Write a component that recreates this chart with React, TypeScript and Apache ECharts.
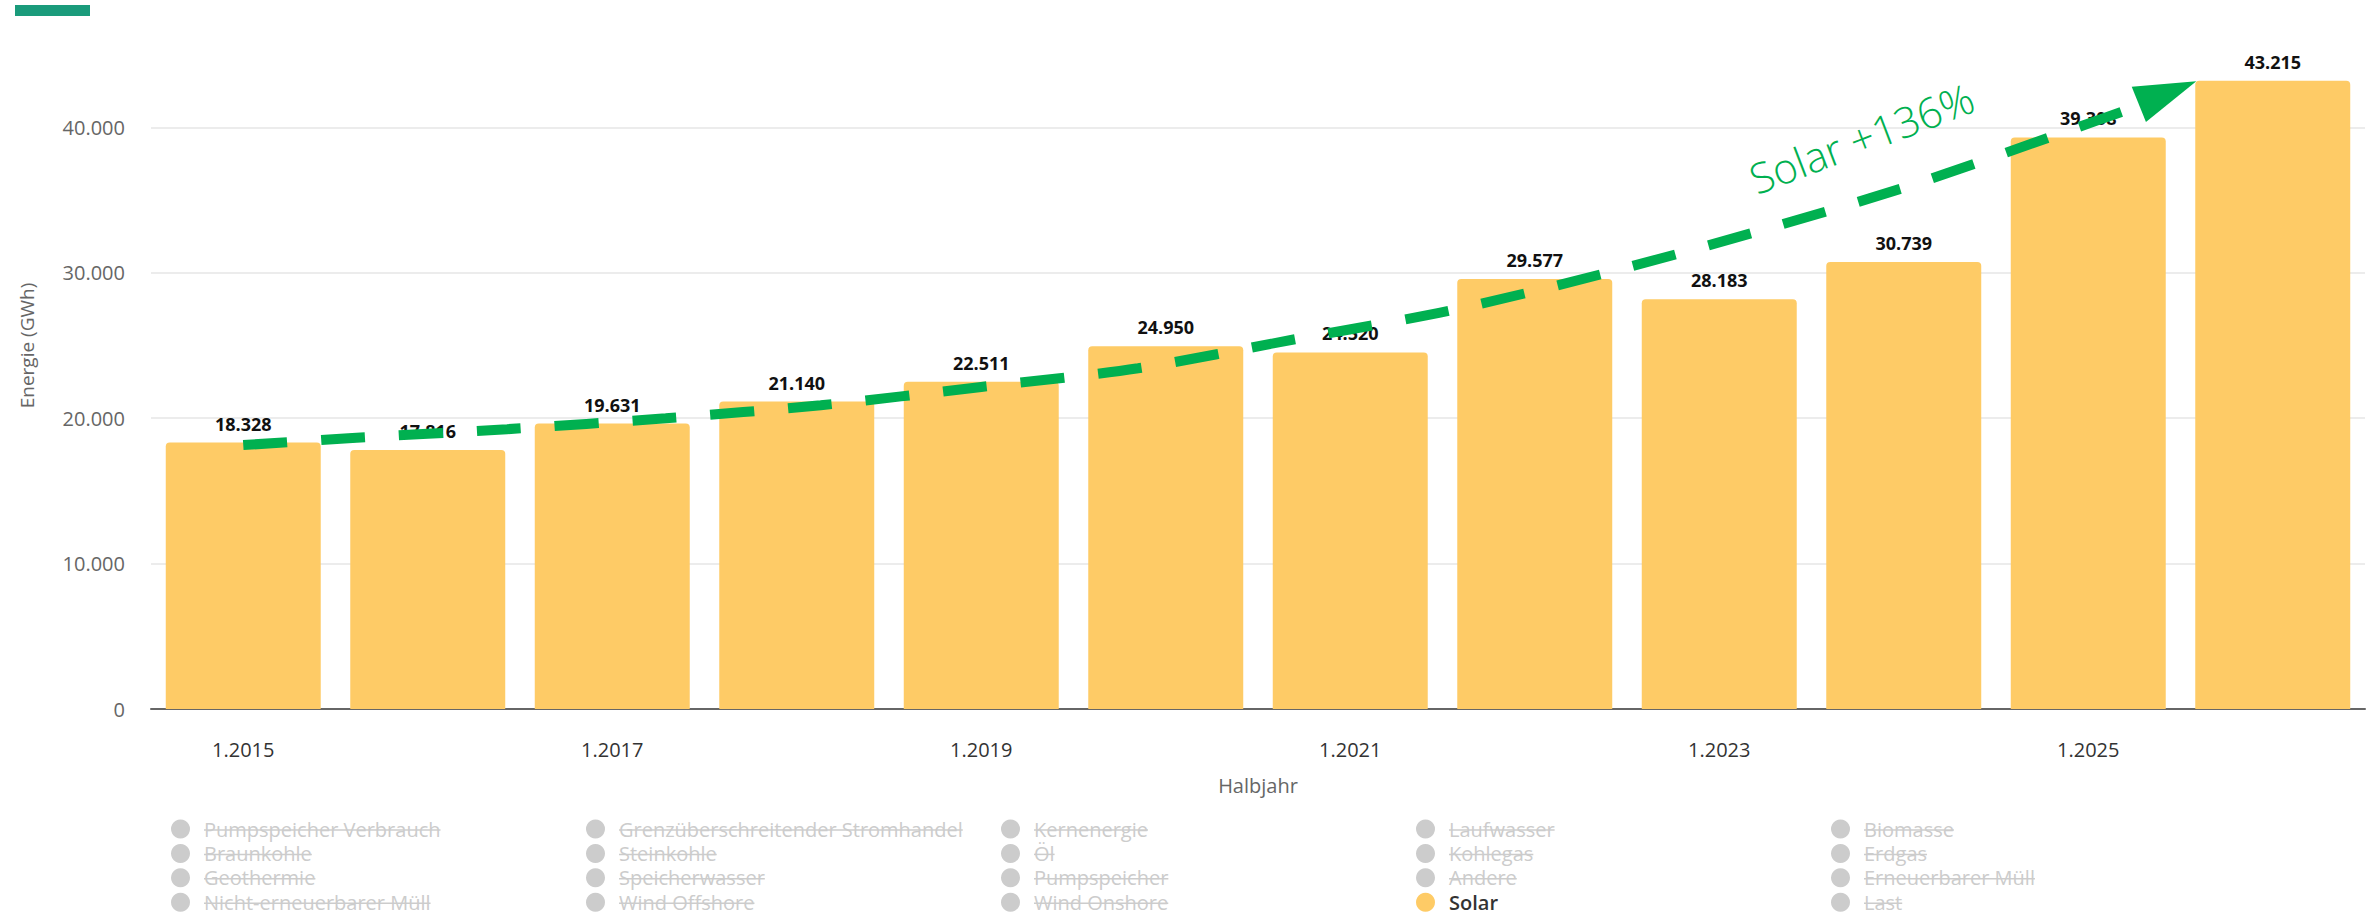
import React, { useEffect, useRef } from 'react';
import * as echarts from 'echarts';

// ---------- data ----------
const categories = ['1.2015', '1.2016', '1.2017', '1.2018', '1.2019', '1.2020', '1.2021', '1.2022', '1.2023', '1.2024', '1.2025', '1.2026'];
const solarValues = [18328, 17816, 19631, 21140, 22511, 24950, 24520, 29577, 28183, 30739, 39308, 43215];
const yTickValues = [0, 10000, 20000, 30000, 40000];

const legendColumns: string[][] = [
  ['Pumpspeicher Verbrauch', 'Braunkohle', 'Geothermie', 'Nicht-erneuerbarer Müll'],
  ['Grenzüberschreitender Stromhandel', 'Steinkohle', 'Speicherwasser', 'Wind Offshore'],
  ['Kernenergie', 'Öl', 'Pumpspeicher', 'Wind Onshore'],
  ['Laufwasser', 'Kohlegas', 'Andere', 'Solar'],
  ['Biomasse', 'Erdgas', 'Erneuerbarer Müll', 'Last'],
];
const activeSeries = 'Solar';

// trend annotation, in (category index, GWh) coordinates
const trendPath: [number, number][] = [
  [0, 18150], [0.57, 18625], [1.43, 19244], [2.29, 20000], [3.13, 20893], [4.0, 22150],
  [4.85, 23436], [5.7, 25430], [6.55, 27423], [7.38, 29966], [8.21, 32852], [9.04, 36014],
  [9.85, 39588], [10.32, 41700],
];
const trendArrowHead: [number, number] = [10.43, 42380];
const trendLabel = 'Solar +136%';
const trendLabelAnchor: [number, number] = [8.77, 39300];

// ---------- styles ----------
const W = 2372;
const H = 915;
const FONT = "'Open Sans', 'Noto Sans', sans-serif";
const GREEN = '#00b050';
const BAR = '#fecb66';
const LEGEND_LEFTS = [171, 586, 1001, 1416, 1831];
const LEGEND_TOP = 819;
const LEGEND_ICON = 19;
const LEGEND_LINE_H = 20;
const LEGEND_GAP = 4.4;
const LEGEND_FONT = 20;
const LEGEND_PAD = 9;

const deNum = (v: number) => Number(v).toLocaleString('de-DE');

export default function App() {
  const ref = useRef<HTMLDivElement>(null);

  useEffect(() => {
    if (!ref.current) return;
    const chart = echarts.init(ref.current, undefined, { renderer: 'svg' });

    const allNames = legendColumns.flat();
    const selected: Record<string, boolean> = {};
    allNames.forEach((n) => (selected[n] = n === activeSeries));

    const otherSeries = allNames
      .filter((n) => n !== activeSeries)
      .map((n) => ({ name: n, type: 'bar' as const, data: [] as number[] }));

    const legends = legendColumns.map((col, i) => ({
      type: 'plain',
      orient: 'vertical' as const,
      left: LEGEND_LEFTS[i],
      top: LEGEND_TOP,
      height: 110,
      padding: 0,
      itemWidth: LEGEND_ICON,
      itemHeight: LEGEND_ICON,
      itemGap: LEGEND_GAP,
      icon: 'circle',
      selectedMode: true,
      selected,
      inactiveColor: '#cccccc',
      textStyle: {
        fontFamily: FONT,
        fontSize: LEGEND_FONT,
        lineHeight: LEGEND_LINE_H,
        color: '#333333',
        padding: [0, 0, 0, LEGEND_PAD],
      },
      data: col.map((n) =>
        n === activeSeries ? { name: n, textStyle: { fontWeight: 600 } } : { name: n }
      ),
    }));

    // strike-through lines for inactive legend entries
    const canvas = document.createElement('canvas');
    const ctx = canvas.getContext('2d')!;
    ctx.font = `normal ${LEGEND_FONT}px 'Open Sans'`;
    const strikes: any[] = [];
    legendColumns.forEach((col, ci) => {
      col.forEach((n, ri) => {
        if (n === activeSeries) return;
        const w = ctx.measureText(n).width;
        const x0 = LEGEND_LEFTS[ci] + LEGEND_ICON + 5 + LEGEND_PAD;
        const yc = LEGEND_TOP + ri * (LEGEND_LINE_H + LEGEND_GAP) + LEGEND_LINE_H / 2 + 1;
        strikes.push({
          type: 'line',
          silent: true,
          shape: { x1: x0, y1: yc, x2: x0 + w, y2: yc },
          style: { stroke: '#cccccc', lineWidth: 1.5 },
          z: 100,
        });
      });
    });

    const option: any = {
      animation: false,
      backgroundColor: '#ffffff',
      color: [BAR],
      grid: {
        left: 151,
        right: 7,
        top: -18,
        bottom: 206,
        containLabel: false,
        outerBoundsMode: 'none',
      },
      legend: legends,
      xAxis: [
        {
          type: 'category',
          data: categories,
          name: 'Halbjahr',
          nameLocation: 'middle',
          nameGap: 66,
          nameTextStyle: { fontFamily: FONT, fontSize: 20, color: '#666666' },
          axisLine: { show: true, lineStyle: { color: '#666666', width: 2 } },
          axisTick: { show: false },
          axisLabel: {
            interval: 1,
            margin: 30,
            fontFamily: FONT,
            fontSize: 20,
            color: '#333333',
          },
          splitLine: { show: false },
        },
        {
          type: 'value',
          min: -0.5,
          max: categories.length - 0.5,
          show: false,
          splitLine: { show: false },
        },
      ],
      yAxis: {
        type: 'value',
        min: 0,
        max: 50000,
        interval: 10000,
        name: 'Energie (GWh)',
        nameLocation: 'middle',
        nameGap: 115,
        nameTextStyle: { fontFamily: FONT, fontSize: 19, color: '#666666' },
        axisLine: { show: false },
        axisTick: { show: false },
        axisLabel: {
          margin: 26,
          fontFamily: FONT,
          fontSize: 20,
          color: '#666666',
          showMaxLabel: false,
          formatter: (v: number) => (yTickValues.includes(v) ? deNum(v) : ''),
        },
        splitLine: { show: true, lineStyle: { color: '#e6e6e6', width: 1.5 } },
      },
      series: [
        ...otherSeries,
        {
          name: activeSeries,
          type: 'bar',
          xAxisIndex: 0,
          yAxisIndex: 0,
          data: solarValues,
          barCategoryGap: '16%',
          itemStyle: { color: BAR, borderRadius: [4, 4, 0, 0] },
          label: {
            show: true,
            position: 'top',
            distance: 10,
            formatter: (p: any) => deNum(p.value),
            fontFamily: FONT,
            fontSize: 18,
            fontWeight: 'bold',
            color: '#111111',
          },
          z: 2,
        },
        {
          name: '__trend',
          type: 'line',
          xAxisIndex: 1,
          yAxisIndex: 0,
          data: trendPath,
          smooth: 0.3,
          symbol: 'none',
          silent: true,
          lineStyle: { color: GREEN, width: 10, type: [44, 34], cap: 'butt' },
          z: 10,
        },
        {
          name: '__arrow',
          type: 'scatter',
          xAxisIndex: 1,
          yAxisIndex: 0,
          data: [trendArrowHead],
          symbol: 'triangle',
          symbolSize: [38, 62],
          symbolRotate: -68,
          itemStyle: { color: GREEN, opacity: 1 },
          silent: true,
          z: 11,
        },
      ],
    };

    chart.setOption(option);

    const trendIdx = option.series.findIndex((s: any) => s.name === '__trend');
    const anchor = chart.convertToPixel({ seriesIndex: trendIdx }, trendLabelAnchor) as number[];

    chart.setOption({
      graphic: [
        {
          type: 'rect',
          silent: true,
          shape: { x: 15, y: 5, width: 75, height: 11 },
          style: { fill: '#1a9b7b' },
        },
        {
          type: 'text',
          silent: true,
          x: anchor[0],
          y: anchor[1],
          rotation: (21 * Math.PI) / 180,
          style: {
            text: trendLabel,
            fontFamily: FONT,
            fontSize: 42,
            fontWeight: 300,
            fill: GREEN,
            align: 'center',
            verticalAlign: 'middle',
          },
          z: 100,
        },
        ...strikes,
      ],
    });

    return () => chart.dispose();
  }, []);

  return (
    <div
      ref={ref}
      style={{ position: 'absolute', left: 0, top: 0, width: W, height: H }}
    />
  );
}
